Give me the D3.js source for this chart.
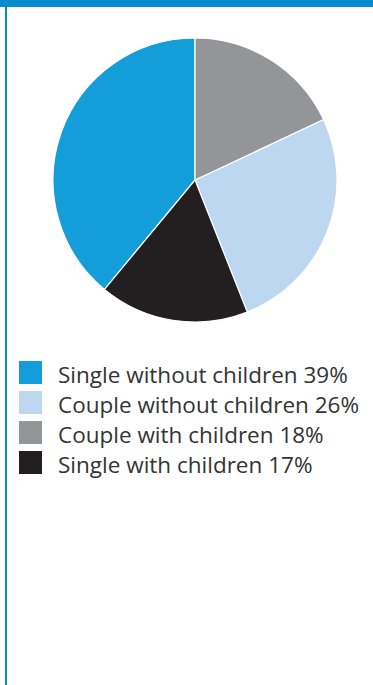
<!DOCTYPE html>
<html>
<head>
<meta charset="utf-8">
<script src="https://cdn.jsdelivr.net/npm/d3@7"></script>
<style>
  html, body { margin: 0; padding: 0; background: #fff; }
  svg { display: block; }
</style>
</head>
<body>
<script>
// Household composition shares
const categories = ["Single without children", "Couple without children", "Couple with children", "Single with children"];
const shares = [39, 26, 18, 17];
const colors = ["#139dd9", "#bcd7ef", "#939598", "#231f20"];
// Order of slices clockwise from 12 o'clock
const sliceOrder = ["Couple with children", "Couple without children", "Single with children", "Single without children"];

const W = 373, H = 685;
const svg = d3.select("body").append("svg").attr("width", W).attr("height", H);

// Frame: top bar and left rule
svg.append("rect").attr("x", 0).attr("y", 0).attr("width", W).attr("height", 7).attr("fill", "#0a8bd0");
svg.append("rect").attr("x", 5).attr("y", 0).attr("width", 2).attr("height", H).attr("fill", "#0a8bd0");

const data = categories.map((c, i) => ({ cat: c, value: shares[i], color: colors[i] }));
const color = d3.scaleOrdinal().domain(categories).range(colors);

const pie = d3.pie()
  .value(d => d.value)
  .sort((a, b) => sliceOrder.indexOf(a.cat) - sliceOrder.indexOf(b.cat));
const arc = d3.arc().innerRadius(0).outerRadius(142);

const g = svg.append("g").attr("transform", "translate(195,180)");
g.selectAll("path").data(pie(data)).join("path")
  .attr("d", arc)
  .attr("fill", d => color(d.data.cat))
  .attr("stroke", "#fff")
  .attr("stroke-width", 1.2)
  .attr("stroke-linejoin", "round");

// Legend
const legend = svg.append("g").attr("transform", "translate(19,361)");
const rows = legend.selectAll("g").data(data).join("g")
  .attr("transform", (d, i) => `translate(0,${i * 30})`);
rows.append("rect").attr("width", 23).attr("height", 23).attr("fill", d => color(d.cat));
rows.append("text")
  .attr("x", 39).attr("y", 22)
  .attr("font-family", "'Open Sans', sans-serif")
  .attr("font-size", 22.5)
  .attr("fill", "#333")
  .text(d => `${d.cat} ${d.value}%`);
</script>
</body>
</html>
